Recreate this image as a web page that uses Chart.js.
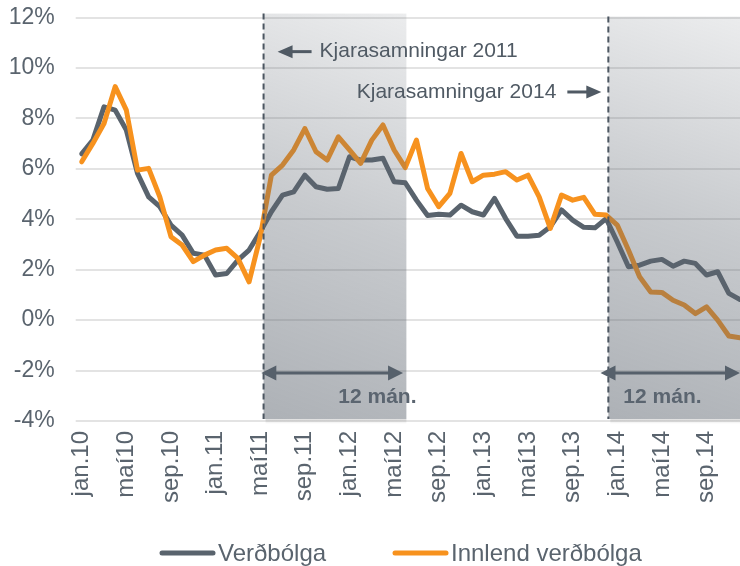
<!DOCTYPE html>
<html>
<head>
<meta charset="utf-8">
<script src="https://cdn.jsdelivr.net/npm/chart.js@4.4.0/dist/chart.umd.min.js"></script>
<style>
  html,body{margin:0;padding:0;background:#fff;}
  #wrap{width:740px;height:566px;position:relative;}
</style>
</head>
<body>
<div id="wrap"><canvas id="c" width="740" height="566"></canvas></div>
<script>
const months = ['jan.','feb.','mar.','apr.','maí','jún.','júl.','ágú.','sep.','okt.','nóv.','des.'];
const years = ['10','11','12','13','14'];
const categories = [];
years.forEach(y => months.forEach(m => categories.push(m + y)));

const verdbolga = [6.6,7.14,8.46,8.33,7.54,5.82,4.89,4.5,3.77,3.37,2.65,2.58,
  1.79,1.85,2.38,2.78,3.5,4.3,4.96,5.09,5.75,5.29,5.19,5.22,
  6.48,6.35,6.35,6.42,5.49,5.45,4.76,4.15,4.2,4.17,4.56,4.3,
  4.17,4.83,4.03,3.33,3.33,3.37,3.7,4.37,3.97,3.68,3.66,4.03,
  3.1,2.12,2.18,2.34,2.41,2.14,2.34,2.25,1.79,1.92,1.06,0.82];
const innlend = [6.28,7.01,7.8,9.26,8.33,5.95,6.02,4.89,3.31,2.98,2.32,2.58,
  2.78,2.85,2.45,1.52,3.3,5.75,6.15,6.75,7.6,6.68,6.35,7.27,
  6.75,6.22,7.14,7.74,6.75,6.05,7.14,5.22,4.5,5.03,6.61,5.49,
  5.75,5.79,5.89,5.56,5.75,4.89,3.64,4.96,4.76,4.87,4.2,4.17,
  3.77,2.78,1.72,1.12,1.1,0.79,0.6,0.26,0.53,0.0,-0.63,-0.7];

const seriesNames = ['Verðbólga','Innlend verðbólga'];
const yTicks = [-4,-2,0,2,4,6,8,10,12];
// shaded 12-month periods, in category-index units
const periodStart = [16.3, 47.2];
const periodEnd = [29.1, 60];
const periodText = ['12 mán.','12 mán.'];
const noteTexts = ['Kjarasamningar 2011','Kjarasamningar 2014'];

const GRAY = '#59636d';
const ORANGE = '#F7921E';
const TXT = '#5a646e';
const FONT = '"Liberation Sans", Arial, sans-serif';

function arrowHead(ctx, x, y, dir, len, hw){
  ctx.beginPath();
  ctx.moveTo(x, y);
  ctx.lineTo(x - dir*len, y - hw);
  ctx.lineTo(x - dir*len, y + hw);
  ctx.closePath();
  ctx.fill();
}

const overlay = {
  id:'overlay',
  afterDatasetsDraw(chart){
    const ctx = chart.ctx, xs = chart.scales.x, ys = chart.scales.y, ca = chart.chartArea;
    ctx.save();
    for(let k=0;k<periodStart.length;k++){
      const top = ca.top - (k === 0 ? 4 : 1), bottom = ca.bottom - 2;
      const x0 = xs.getPixelForValue(periodStart[k]);
      const x1 = Math.min(xs.getPixelForValue(periodEnd[k]), chart.width);
      const sg = ctx.createLinearGradient(0, bottom, 0, bottom+5);
      sg.addColorStop(0,'rgba(0,0,0,0.13)');
      sg.addColorStop(1,'rgba(0,0,0,0)');
      ctx.fillStyle = sg;
      ctx.fillRect(x0+2, bottom, x1-x0-2, 5);
      const g = ctx.createLinearGradient(x0, bottom, x1, top);
      g.addColorStop(0,'rgba(92,100,110,0.5)');
      g.addColorStop(0.5,'rgba(92,100,110,0.34)');
      g.addColorStop(1,'rgba(92,100,110,0.12)');
      ctx.fillStyle = g;
      ctx.fillRect(x0, top, x1-x0, bottom-top);
      ctx.strokeStyle = '#4c5661';
      ctx.lineWidth = 2;
      ctx.setLineDash([6,4]);
      ctx.beginPath();
      ctx.moveTo(x0, top);
      ctx.lineTo(x0, bottom);
      ctx.stroke();
      ctx.setLineDash([]);
    }
    ctx.fillStyle = '#56606b';
    ctx.strokeStyle = '#56606b';
    ctx.lineWidth = 3;
    const ay = ys.getPixelForValue(-2.1);
    const arrowX = [[periodStart[0]-0.2, periodEnd[0]-0.3],[periodStart[1]-0.7, periodEnd[1]]];
    for(let k=0;k<arrowX.length;k++){
      const a = xs.getPixelForValue(arrowX[k][0]);
      const b = Math.min(xs.getPixelForValue(arrowX[k][1]), chart.width);
      ctx.beginPath(); ctx.moveTo(a+8, ay); ctx.lineTo(b-8, ay); ctx.stroke();
      arrowHead(ctx, a, ay, -1, 15, 7.5);
      arrowHead(ctx, b, ay, 1, 15, 7.5);
    }
    ctx.font = 'bold 21px ' + FONT;
    ctx.fillStyle = '#5b6570';
    ctx.textAlign = 'center';
    ctx.textBaseline = 'middle';
    const ty = ys.getPixelForValue(-3.05);
    ctx.fillText(periodText[0], xs.getPixelForValue(26.5), ty);
    ctx.fillText(periodText[1], xs.getPixelForValue(52.05), ty);

    ctx.font = '21px ' + FONT;
    ctx.fillStyle = '#505a64';
    ctx.strokeStyle = '#505a64';
    ctx.lineWidth = 3;
    const n1y = ys.getPixelForValue(10.65);
    const n1x = xs.getPixelForValue(periodStart[0]) + 14;
    ctx.beginPath(); ctx.moveTo(n1x+8, n1y); ctx.lineTo(n1x+34, n1y); ctx.stroke();
    arrowHead(ctx, n1x, n1y, -1, 15, 6.5);
    ctx.textAlign = 'left';
    ctx.fillText(noteTexts[0], n1x + 42, n1y);
    const n2y = ys.getPixelForValue(9.05);
    const n2x = xs.getPixelForValue(periodStart[1]) - 7;
    ctx.beginPath(); ctx.moveTo(n2x-34, n2y); ctx.lineTo(n2x-8, n2y); ctx.stroke();
    arrowHead(ctx, n2x, n2y, 1, 15, 6.5);
    ctx.textAlign = 'right';
    ctx.fillText(noteTexts[1], n2x - 45, n2y);
    ctx.restore();
  },
  afterDraw(chart){
    const ctx = chart.ctx;
    ctx.save();
    ctx.font = '24px ' + FONT;
    ctx.textBaseline = 'middle';
    ctx.textAlign = 'left';
    const ly = 553;
    const items = [{x:160, c:GRAY, t:seriesNames[0]},{x:393, c:ORANGE, t:seriesNames[1]}];
    items.forEach(it => {
      ctx.strokeStyle = it.c;
      ctx.lineWidth = 5;
      ctx.lineCap = 'round';
      ctx.beginPath(); ctx.moveTo(it.x+2, ly); ctx.lineTo(it.x+53, ly); ctx.stroke();
      ctx.fillStyle = TXT;
      ctx.fillText(it.t, it.x + 58, ly + 1);
    });
    ctx.restore();
  }
};

new Chart(document.getElementById('c'), {
  type:'line',
  data:{
    labels: categories,
    datasets:[
      {label:seriesNames[0], data:verdbolga, borderColor:GRAY, backgroundColor:GRAY, borderWidth:5,
       pointRadius:0, tension:0, borderJoinStyle:'round', borderCapStyle:'round', order:1},
      {label:seriesNames[1], data:innlend, borderColor:ORANGE, backgroundColor:ORANGE, borderWidth:5,
       pointRadius:0, tension:0, borderJoinStyle:'round', borderCapStyle:'round', order:0}
    ]
  },
  options:{
    responsive:false,
    animation:false,
    devicePixelRatio:1,
    layout:{padding:{top:17.6, right:0, left:0, bottom:0}},
    plugins:{legend:{display:false}, tooltip:{enabled:false}},
    scales:{
      x:{
        type:'category',
        offset:false,
        grid:{display:false, drawTicks:false},
        border:{display:false},
        ticks:{
          autoSkip:false, maxRotation:90, minRotation:90, padding:10,
          color:TXT, font:{family:FONT, size:24},
          callback:function(v, i){ return i % 4 === 0 ? categories[i] : ''; }
        },
        afterFit(axis){ axis.height = 145; axis.paddingLeft = 0; axis.paddingRight = 0; }
      },
      y:{
        min:yTicks[0], max:yTicks[yTicks.length-1],
        afterBuildTicks(axis){ axis.ticks = yTicks.map(v => ({value:v})); },
        grid:{color:'#e3e3e3', lineWidth:2, drawTicks:true, tickLength:6},
        border:{display:false},
        ticks:{color:TXT, padding:21, font:{family:FONT, size:23},
          callback:v => v + '%'},
        afterFit(axis){ axis.width = 81.7; axis.paddingTop = 0; axis.paddingBottom = 0; }
      }
    }
  },
  plugins:[overlay]
});
</script>
</body>
</html>
